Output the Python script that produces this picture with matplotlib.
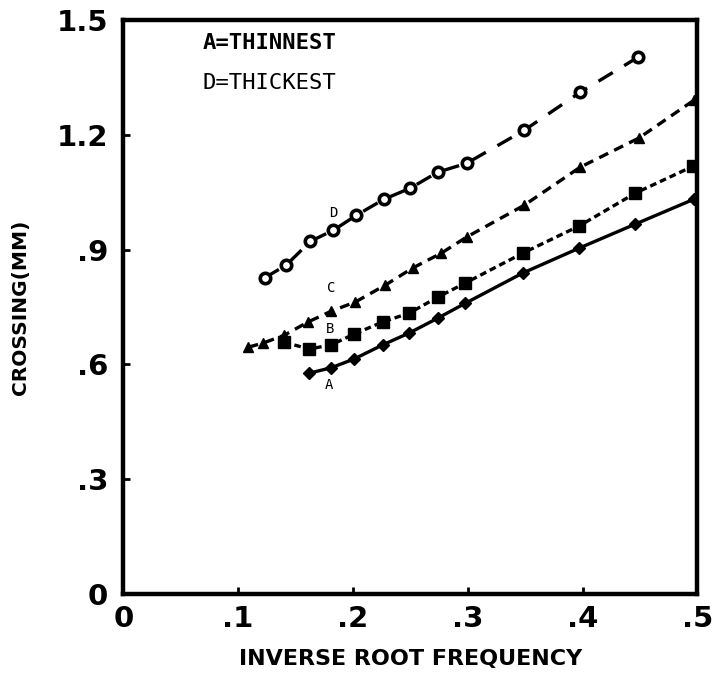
import matplotlib.pyplot as plt
import numpy as np

# 数据（从图上读出来的近似值）
x_a = [0.162, 0.181, 0.201, 0.226, 0.249, 0.274, 0.298, 0.348, 0.397, 0.446, 0.497]
y_a = [0.577, 0.591, 0.614, 0.651, 0.682, 0.721, 0.760, 0.839, 0.904, 0.967, 1.032]

x_b = [0.140, 0.162, 0.181, 0.201, 0.226, 0.249, 0.274, 0.298, 0.348, 0.397, 0.446, 0.496]
y_b = [0.658, 0.640, 0.651, 0.679, 0.711, 0.734, 0.776, 0.813, 0.891, 0.962, 1.048, 1.118]

x_c = [0.109, 0.122, 0.140, 0.161, 0.181, 0.202, 0.228, 0.252, 0.277, 0.299, 0.349, 0.398, 0.449, 0.497]
y_c = [0.645, 0.656, 0.676, 0.711, 0.739, 0.763, 0.807, 0.852, 0.891, 0.933, 1.016, 1.116, 1.192, 1.291]

x_d = [0.123, 0.142, 0.163, 0.183, 0.203, 0.227, 0.250, 0.274, 0.299, 0.349, 0.398, 0.448]
y_d = [0.826, 0.860, 0.922, 0.951, 0.990, 1.032, 1.061, 1.103, 1.126, 1.212, 1.312, 1.403]

x_ticks = [0, 0.1, 0.2, 0.3, 0.4, 0.5]
x_labels = ['0', '.1', '.2', '.3', '.4', '.5']
y_ticks = [0, 0.3, 0.6, 0.9, 1.2, 1.5]
y_labels = ['0', '.3', '.6', '.9', '1.2', '1.5']

fig = plt.figure(figsize=(7.13, 6.8), dpi=100)
ax = fig.add_axes([0.173, 0.127, 0.805, 0.843])

lw = 2.4
ax.plot(x_a, y_a, color='black', lw=lw, linestyle='-', marker='D', markersize=6)
ax.plot(x_b, y_b, color='black', lw=lw, linestyle=(0, (2.0, 1.2)), marker='s', markersize=8)
ax.plot(x_c, y_c, color='black', lw=lw, linestyle=(0, (3.0, 2.0)), marker='^', markersize=7)
ax.plot(x_d, y_d, color='black', lw=lw, linestyle=(0, (5.0, 4.0)), marker='o', markersize=7.5,
        markerfacecolor='white', markeredgewidth=2.6)

# 曲线标签
ax.text(0.183, 0.997, 'D', fontsize=10, ha='center', va='center', family='DejaVu Sans Mono')
ax.text(0.181, 0.800, 'C', fontsize=10, ha='center', va='center', family='DejaVu Sans Mono')
ax.text(0.180, 0.692, 'B', fontsize=10, ha='center', va='center', family='DejaVu Sans Mono')
ax.text(0.179, 0.546, 'A', fontsize=10, ha='center', va='center', family='DejaVu Sans Mono')

# 说明文字
ax.text(0.069, 1.44, 'A=THINNEST', fontsize=16, fontweight='bold', ha='left', va='center',
        family='DejaVu Sans Mono')
ax.text(0.069, 1.335, 'D=THICKEST', fontsize=16, ha='left', va='center',
        family='DejaVu Sans Mono')

ax.set_xlim(0, 0.5)
ax.set_ylim(0, 1.5)
ax.set_xticks(x_ticks)
ax.set_xticklabels(x_labels, fontsize=21, fontweight='bold')
ax.set_yticks(y_ticks)
ax.set_yticklabels(y_labels, fontsize=21, fontweight='bold')
ax.tick_params(direction='in', length=5, width=2)
ax.tick_params(axis='y', pad=11)
ax.tick_params(axis='x', pad=8)

for sp in ax.spines.values():
    sp.set_linewidth(3.2)

ax.set_xlabel('INVERSE ROOT FREQUENCY', fontsize=16, fontweight='bold', labelpad=12)
ax.set_ylabel('CROSSING(MM)', fontsize=14.5, fontweight='bold', labelpad=19)

fig.savefig('out.png', dpi=100)
